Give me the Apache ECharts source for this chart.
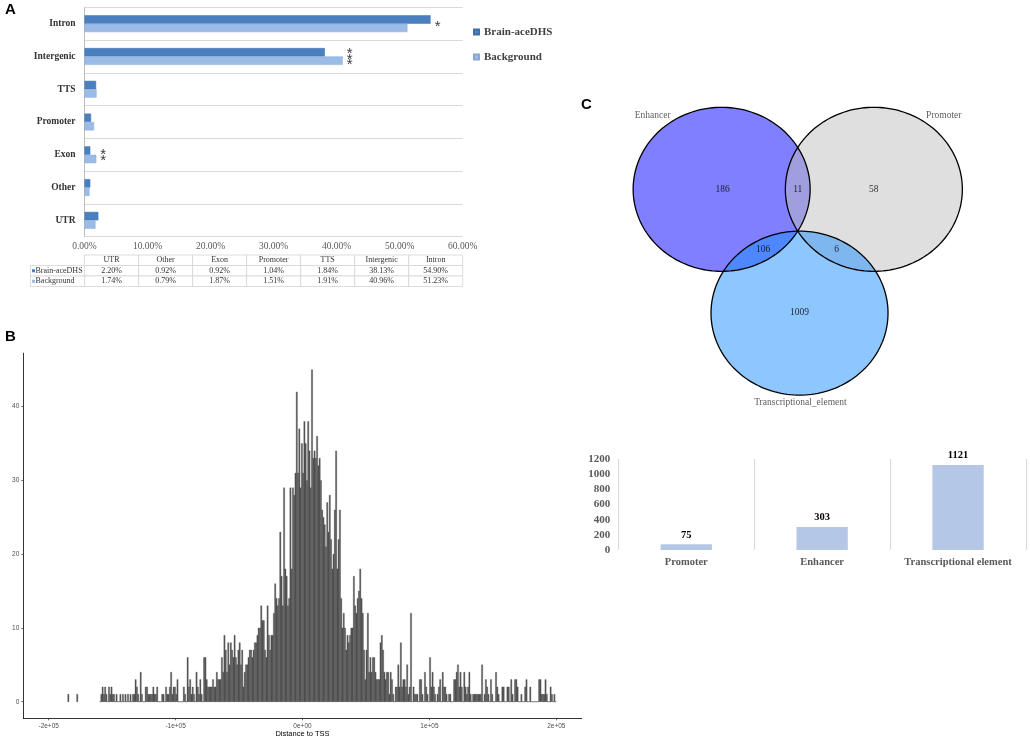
<!DOCTYPE html>
<html>
<head>
<meta charset="utf-8">
<title>Brain-aceDHS peak annotation</title>
<script src="https://cdn.jsdelivr.net/npm/echarts@6.0.0/dist/echarts.min.js"></script>
<style>
html, body { margin: 0; padding: 0; background: #fff; }
#main { width: 1030px; height: 739px; }
</style>
</head>
<body>
<div id="main"></div>
<script>
/**
 * Panel A - genomic annotation (percent of peaks)
 */
var annoCategories = ['UTR', 'Other', 'Exon', 'Promoter', 'TTS', 'Intergenic', 'Intron'];
var brainPct = [2.20, 0.92, 0.92, 1.04, 1.84, 38.13, 54.90];
var backgroundPct = [1.74, 0.79, 1.87, 1.51, 1.91, 40.96, 51.23];
var sigMarks = ['', '', '**', '', '', '***', '*'];

/**
 * Panel B - distance to TSS, 1 kb bins from -160 kb
 */
var histStart = -160000;
var histBin = 1000;
var histCounts = [
    0, 1, 2, 1, 2, 1, 0, 2, 1, 2,        // -160k
    1, 1, 0, 1, 0, 0, 1, 0, 1, 0,        // -150k
    1, 0, 1, 0, 1, 0, 1, 1, 3, 2,        // -140k
    1, 0, 4, 1, 0, 0, 2, 2, 1, 1,        // -130k
    1, 1, 2, 1, 1, 2, 0, 0, 0, 1,        // -120k
    1, 0, 2, 1, 1, 2, 4, 1, 2, 2,        // -110k
    1, 3, 0, 0, 0, 0, 2, 1, 0, 6,        // -100k
    2, 3, 1, 2, 1, 0, 4, 2, 1, 3,        // -90k
    1, 0, 6, 6, 3, 2, 2, 2, 2, 3,        // -80k
    2, 2, 4, 3, 3, 3, 6, 4, 9, 7,        // -70k
    4, 8, 5, 8, 7, 6, 9, 6, 5, 7,        // -60k
    8, 5, 7, 2, 4, 5, 5, 6, 7, 7,        // -50k
    6, 7, 8, 8, 9, 10, 10, 13, 11, 11,   // -40k
    7, 6, 13, 9, 7, 9, 9, 12, 16, 14,    // -30k
    13, 14, 23, 17, 13, 29, 18, 17, 13, 14, // -20k
    29, 18, 29, 28, 31, 42, 31, 37, 29, 35, // -10k
    31, 38, 35, 30, 38, 34, 29, 45, 33, 34, // 0
    33, 36, 32, 33, 30, 26, 25, 24, 21, 27, // 10k
    23, 28, 22, 18, 20, 26, 34, 18, 22, 26, // 20k
    14, 10, 12, 10, 7, 9, 8, 9, 10, 10,  // 30k
    17, 13, 12, 14, 15, 18, 14, 12, 7, 3, // 40k
    7, 12, 4, 6, 4, 6, 6, 4, 3, 3,       // 50k
    3, 8, 9, 7, 4, 3, 4, 4, 1, 4,        // 60k
    3, 1, 0, 2, 2, 5, 2, 8, 2, 3,        // 70k
    3, 2, 5, 1, 2, 12, 0, 2, 1, 1,       // 80k
    1, 0, 3, 3, 1, 0, 4, 2, 1, 0,        // 90k
    6, 2, 4, 2, 1, 0, 1, 2, 3, 0,        // 100k
    4, 2, 2, 1, 0, 1, 1, 0, 0, 3,        // 110k
    3, 4, 5, 2, 4, 2, 0, 4, 2, 1,        // 120k
    2, 4, 1, 0, 1, 1, 1, 1, 1, 1,        // 130k
    1, 5, 0, 1, 3, 2, 1, 0, 3, 1,        // 140k
    0, 0, 4, 2, 1, 0, 0, 2, 2, 0,        // 150k
    0, 2, 2, 0, 3, 1, 0, 3, 3, 2,        // 160k
    0, 0, 1, 0, 0, 2, 3, 0, 0, 2,        // 170k
    0, 0, 0, 0, 0, 0, 3, 3, 1, 1,        // 180k
    1, 3, 1, 0, 0, 2, 1, 0, 1, 0         // 190k
];
// two isolated bins far left: [bin start, count]
var histLoneBins = [[-185000, 1], [-178000, 1]];
var tssTicks = [-200000, -100000, 0, 100000, 200000];
var tssTickLabels = ['-2e+05', '-1e+05', '0e+00', '1e+05', '2e+05'];
var countTicks = [0, 10, 20, 30, 40];

/**
 * Panel C - venn of element types + totals
 */
var vennSets = ['Enhancer', 'Promoter', 'Transcriptional_element'];
var vennCounts = [186, 11, 58, 106, 6, 1009];   // E, E&P, P, E&T, P&T, T
var elementNames = ['Promoter', 'Enhancer', 'Transcriptional element'];
var elementTotals = [75, 303, 1121];

// venn geometry in circle-radius units (the grid aspect makes them ellipses)
var vennCenters = [[-0.86, 0], [0.86, 0], [0.02, -1.51]];
var vennFills = ['rgba(0,0,255,0.5)', 'rgba(192,192,192,0.5)', 'rgba(30,144,255,0.5)'];
var vennCountPos = [[-0.85, 0], [0, 0], [0.86, 0], [-0.39, -0.74], [0.44, -0.74], [0.02, -1.5]];
var vennNamePos = [[-1.64, 0.9], [1.65, 0.9], [0.03, -2.6]];

var SERIF = '"Liberation Serif", "Times New Roman", serif';
var SANS = '"Liberation Sans", Arial, sans-serif';

// table cells under panel A
var tableCells = [];
for (var i = 0; i < annoCategories.length; i++) {
    tableCells.push({col: i + 1, row: 0, text: annoCategories[i]});
    tableCells.push({col: i + 1, row: 1, text: brainPct[i].toFixed(2) + '%'});
    tableCells.push({col: i + 1, row: 2, text: backgroundPct[i].toFixed(2) + '%'});
}
tableCells.push({col: 0, row: 1, text: 'Brain-aceDHS', swatch: '#4a80c0'});
tableCells.push({col: 0, row: 2, text: 'Background', swatch: '#9bbce6'});

var sigData = [];
for (var j = 0; j < sigMarks.length; j++) {
    if (sigMarks[j]) {
        sigData.push({value: [Math.max(brainPct[j], backgroundPct[j]), j], mark: sigMarks[j]});
    }
}

var histData = [];
for (var k = 0; k < histCounts.length; k++) {
    var s = histStart + k * histBin;
    histData.push([s, s + histBin, histCounts[k]]);
}
for (var m = 0; m < histLoneBins.length; m++) {
    histData.push([histLoneBins[m][0], histLoneBins[m][0] + histBin, histLoneBins[m][1]]);
}

function ellipsePoints(api, cx, cy) {
    var pts = [];
    for (var a = 0; a < 360; a += 2) {
        var t = a * Math.PI / 180;
        pts.push(api.coord([cx + Math.cos(t), cy + Math.sin(t)]));
    }
    return pts;
}

var chart = echarts.init(document.getElementById('main'));

var option = {
    backgroundColor: '#fff',
    animation: false,
    textStyle: {fontFamily: SERIF},
    legend: {
        data: ['Brain-aceDHS', 'Background'],
        orient: 'vertical',
        left: 468,
        top: 20,
        icon: 'rect',
        itemWidth: 5,
        itemHeight: 5,
        itemGap: 11,
        textStyle: {fontFamily: SERIF, fontWeight: 'bold', fontSize: 11, color: '#404040', lineHeight: 14}
    },
    graphic: [
        {type: 'text', left: 5, top: 2, style: {text: 'A', font: 'bold 15px ' + SANS, fill: '#000'}},
        {type: 'text', left: 5, top: 329, style: {text: 'B', font: 'bold 15px ' + SANS, fill: '#000'}},
        {type: 'text', left: 581, top: 97, style: {text: 'C', font: 'bold 15px ' + SANS, fill: '#000'}}
    ],
    grid: [
        {left: 84.5, top: 7.3, width: 378.2, height: 229.4, outerBoundsMode: 'none'},
        {left: 30.5, top: 255, width: 432.2, height: 31.5, outerBoundsMode: 'none'},
        {left: 23.3, top: 353.2, width: 558.4, height: 365.1, outerBoundsMode: 'none'},
        {left: 585.35, top: 82.7, width: 424.8, height: 336.2, outerBoundsMode: 'none'},
        {left: 618.3, top: 459, width: 407.7, height: 91, outerBoundsMode: 'none'}
    ],
    xAxis: [
        {
            gridIndex: 0, type: 'value', min: 0, max: 60, interval: 10,
            axisLine: {show: false}, axisTick: {show: false}, splitLine: {show: false},
            axisLabel: {
                margin: 5, fontFamily: SERIF, fontSize: 9.5, color: '#595959',
                formatter: function (v) { return v.toFixed(2) + '%'; }
            }
        },
        {gridIndex: 1, type: 'category', data: [''].concat(annoCategories), show: false},
        {
            gridIndex: 2, type: 'value', min: -220000, max: 220000,
            name: 'Distance to TSS', nameLocation: 'middle', nameGap: 10,
            nameTextStyle: {fontFamily: SANS, fontSize: 7.5, color: '#000'},
            axisLine: {onZero: false, lineStyle: {color: '#000', width: 0.8}},
            axisTick: {customValues: tssTicks, length: 2, lineStyle: {color: '#333', width: 0.7}},
            axisLabel: {
                customValues: tssTicks, margin: 4, fontFamily: SANS, fontSize: 6.5, color: '#4d4d4d',
                formatter: function (v) { return tssTickLabels[tssTicks.indexOf(v)]; }
            },
            splitLine: {show: false}
        },
        {gridIndex: 3, type: 'value', min: -2.4, max: 2.4, show: false},
        {
            gridIndex: 4, type: 'category', data: elementNames,
            axisLine: {show: false}, axisTick: {show: false, interval: 0},
            splitLine: {show: true, interval: 0, lineStyle: {color: '#d9d9d9', width: 1}},
            axisLabel: {interval: 0, margin: 7, fontFamily: SERIF, fontWeight: 'bold', fontSize: 10.5, color: '#595959'}
        }
    ],
    yAxis: [
        {
            gridIndex: 0, type: 'category', data: annoCategories,
            axisLine: {show: true, lineStyle: {color: '#bfbfbf', width: 1}},
            axisTick: {show: false},
            splitLine: {show: true, lineStyle: {color: '#d9d9d9', width: 1}},
            axisLabel: {margin: 9, fontFamily: SERIF, fontWeight: 'bold', fontSize: 9.5, color: '#333'}
        },
        {gridIndex: 1, type: 'category', data: ['head', 'brain', 'bg'], inverse: true, show: false},
        {
            gridIndex: 2, type: 'value', min: -2.25, max: 47.25,
            name: 'Counts', nameLocation: 'middle', nameGap: 14, nameRotate: 90,
            nameTextStyle: {fontFamily: SANS, fontSize: 7.5, color: '#000'},
            axisLine: {show: true, onZero: false, lineStyle: {color: '#000', width: 0.8}},
            axisTick: {show: true, customValues: countTicks, length: 2, lineStyle: {color: '#333', width: 0.7}},
            axisLabel: {customValues: countTicks, margin: 4, fontFamily: SANS, fontSize: 6.5, color: '#4d4d4d'},
            splitLine: {show: false}
        },
        {gridIndex: 3, type: 'value', min: -2.8, max: 1.3, show: false},
        {
            gridIndex: 4, type: 'value', min: 0, max: 1200, interval: 200,
            axisLine: {show: false}, axisTick: {show: false}, splitLine: {show: false},
            axisLabel: {
                margin: 8, fontFamily: SERIF, fontWeight: 'bold', fontSize: 11, color: '#595959',
                formatter: function (v) { return String(v); }
            }
        }
    ],
    series: [
        {
            name: 'Brain-aceDHS', type: 'bar', xAxisIndex: 0, yAxisIndex: 0,
            data: brainPct, barWidth: 8.4, barGap: '0%', silent: true,
            itemStyle: {color: '#4a80c0', borderColor: '#3e70aa', borderWidth: 0.5}
        },
        {
            name: 'Background', type: 'bar', xAxisIndex: 0, yAxisIndex: 0,
            data: backgroundPct, barWidth: 8.4, barGap: '0%', silent: true,
            itemStyle: {color: '#9bbce6', borderColor: '#86a8d6', borderWidth: 0.5}
        },
        {
            name: 'sig', type: 'scatter', xAxisIndex: 0, yAxisIndex: 0,
            data: sigData, symbolSize: 0.01, silent: true,
            label: {
                show: true, position: 'inside', offset: [7, 3],
                fontFamily: SANS, fontSize: 15, lineHeight: 5.2, color: '#000',
                formatter: function (p) { return p.data.mark.split('').join('\n'); }
            }
        },
        {
            name: 'table', type: 'custom', xAxisIndex: 1, yAxisIndex: 1, silent: true,
            data: tableCells.map(function (c) { return [c.col, c.row]; }),
            encode: {x: 0, y: 1},
            renderItem: function (params, api) {
                var cell = tableCells[params.dataIndex];
                var c = api.coord([cell.col, cell.row]);
                var sz = api.size([1, 1]);
                var x = c[0] - sz[0] / 2, y = c[1] - sz[1] / 2;
                var kids = [{
                    type: 'rect', shape: {x: x, y: y, width: sz[0], height: sz[1]},
                    style: {fill: '#fff', stroke: '#d4d4d4', lineWidth: 0.8}
                }];
                if (cell.swatch) {
                    kids.push({type: 'rect', shape: {x: x + 1.5, y: c[1] - 1.5, width: 3, height: 3}, style: {fill: cell.swatch}});
                    kids.push({type: 'text', style: {text: cell.text, x: x + 5, y: c[1], align: 'left', verticalAlign: 'middle', font: '8px ' + SERIF, fill: '#333'}});
                } else {
                    kids.push({type: 'text', style: {text: cell.text, x: c[0], y: c[1], align: 'center', verticalAlign: 'middle', font: '8px ' + SERIF, fill: '#333'}});
                }
                return {type: 'group', children: kids};
            }
        },
        {
            name: 'hist', type: 'custom', xAxisIndex: 2, yAxisIndex: 2, silent: true,
            data: histData,
            encode: {x: [0, 1], y: 2},
            renderItem: function (params, api) {
                var p0 = api.coord([api.value(0), api.value(2)]);
                var p1 = api.coord([api.value(1), 0]);
                if (api.value(2) === 0) {
                    return {type: 'line', shape: {x1: p0[0], y1: p1[1], x2: p1[0], y2: p1[1]}, style: {stroke: '#333', lineWidth: 0.7}};
                }
                return {
                    type: 'rect',
                    shape: {x: p0[0], y: p0[1], width: p1[0] - p0[0], height: p1[1] - p0[1]},
                    style: {fill: '#595959', stroke: '#3d3d3d', lineWidth: 0.3}
                };
            }
        },
        {
            name: 'vennFill', type: 'custom', xAxisIndex: 3, yAxisIndex: 3, silent: true,
            data: vennCenters,
            renderItem: function (params, api) {
                return {
                    type: 'polygon',
                    shape: {points: ellipsePoints(api, api.value(0), api.value(1))},
                    style: {fill: vennFills[params.dataIndex], stroke: null}
                };
            }
        },
        {
            name: 'vennLine', type: 'custom', xAxisIndex: 3, yAxisIndex: 3, silent: true,
            data: vennCenters,
            renderItem: function (params, api) {
                return {
                    type: 'polygon',
                    shape: {points: ellipsePoints(api, api.value(0), api.value(1))},
                    style: {fill: null, stroke: '#000', lineWidth: 1.3}
                };
            }
        },
        {
            name: 'vennCounts', type: 'scatter', xAxisIndex: 3, yAxisIndex: 3, silent: true,
            data: vennCountPos, symbolSize: 0.01,
            label: {
                show: true, position: 'inside', fontFamily: SERIF, fontSize: 9.5, color: '#000',
                formatter: function (p) { return String(vennCounts[p.dataIndex]); }
            }
        },
        {
            name: 'vennNames', type: 'scatter', xAxisIndex: 3, yAxisIndex: 3, silent: true,
            data: vennNamePos, symbolSize: 0.01,
            label: {
                show: true, position: 'inside', fontFamily: SERIF, fontSize: 9.5, color: '#333',
                formatter: function (p) { return vennSets[p.dataIndex]; }
            }
        },
        {
            name: 'totals', type: 'bar', xAxisIndex: 4, yAxisIndex: 4, silent: true,
            data: elementTotals, barWidth: 51.3,
            itemStyle: {color: '#b4c7e7'},
            label: {show: true, position: 'top', distance: 4, fontFamily: SERIF, fontWeight: 'bold', fontSize: 10.5, color: '#000'}
        }
    ]
};

chart.setOption(option);
</script>
</body>
</html>
